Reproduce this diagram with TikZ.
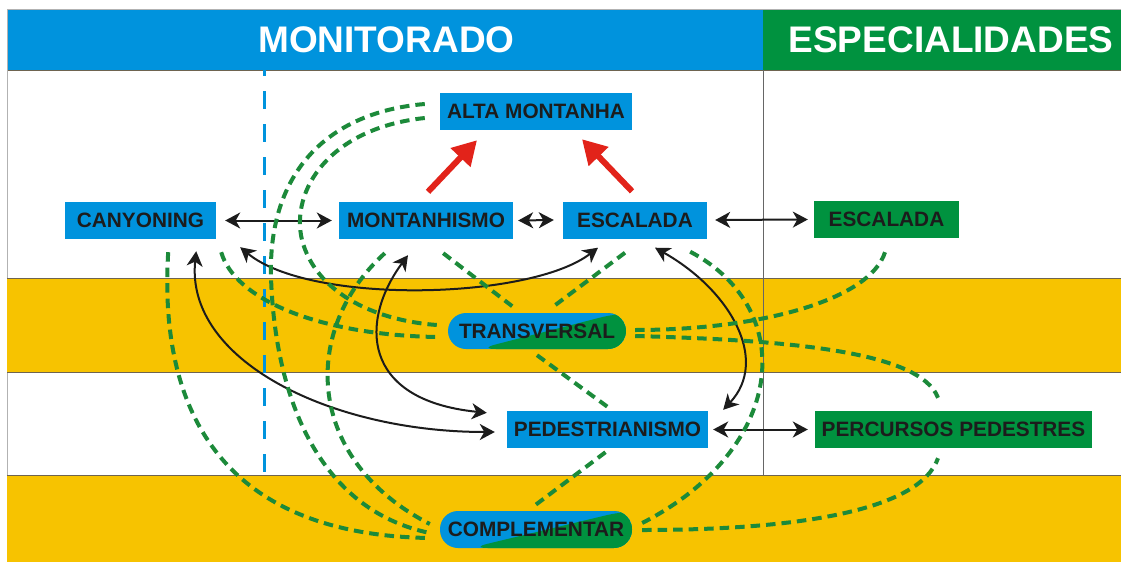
\documentclass[tikz,border=0pt]{standalone}
\usepackage{fontspec}
\setmainfont{Liberation Sans}
\usetikzlibrary{arrows.meta}
\definecolor{cblue}{RGB}{0,147,221}
\definecolor{cgreen}{RGB}{0,146,63}
\definecolor{cdash}{RGB}{28,138,58}
\definecolor{cyellow}{RGB}{247,195,0}
\definecolor{cred}{RGB}{226,35,26}
\definecolor{ctext}{RGB}{28,28,28}
\definecolor{cline}{RGB}{110,100,80}
\begin{document}
\begin{tikzpicture}[x=1pt,y=-1pt,
  box/.style={fill=cblue, inner sep=0pt, minimum height=37pt, text=ctext,
    font=\fontsize{20.8}{24}\selectfont\bfseries},
  gbox/.style={box, fill=cgreen},
  pill/.style={box, rounded corners=18pt,
    path picture={\fill[cgreen] ([xshift=30pt]path picture bounding box.south west)
      -- ([xshift=-8pt]path picture bounding box.north east)
      -- (path picture bounding box.north east)
      -- (path picture bounding box.south east) -- cycle;}},
  link/.style={draw=cdash, line width=4pt, dash pattern=on 9.5pt off 6pt},
  biarrow/.style={draw=ctext, line width=2pt,
    {Stealth[length=15pt,width=16pt,inset=4.5pt]}-{Stealth[length=15pt,width=16pt,inset=4.5pt]}},
  redarrow/.style={draw=cred, line width=6pt, -{Triangle[length=24pt,width=26pt]}},
  hdr/.style={text=white, inner sep=0pt, font=\fontsize{37}{40}\selectfont\bfseries}
]
\useasboundingbox (0,0) rectangle (1121,562);
\fill[white] (0,0) rectangle (1121,562);
% header
\fill[cblue] (7,9) rectangle (763,70);
\fill[cgreen] (763,9) rectangle (1121,70);
\draw[gray!60, line width=0.8pt] (7,9) -- (1121,9);
\draw[cline, line width=0.8pt] (7,70) -- (1121,70);
\draw[gray!60, line width=0.8pt] (7,9) -- (7,562);
% bands
\fill[cyellow] (7,278) rectangle (1121,372);
\fill[cyellow] (7,475) rectangle (1121,562);
\draw[cline, line width=0.8pt] (7,278) -- (1121,278);
\draw[cline, line width=0.8pt] (7,372) -- (1121,372);
\draw[cline, line width=0.8pt] (7,475) -- (1121,475);
\draw[gray!80!black, line width=0.8pt] (763,70) -- (763,475);
\draw[cblue, line width=3pt, dash pattern=on 18pt off 15pt, dash phase=12pt] (264,70) -- (264,475);
% header texts
\node[hdr] (hmon) at (386.5,40) {MONITORADO};
\node[hdr] (hesp) at (951,40) {ESPECIALIDADES};
% nodes
\node[box, minimum width=192pt] (alta) at (536,111.5) {ALTA MONTANHA};
\node[box, minimum width=151pt] (can) at (140.5,220.5) {CANYONING};
\node[box, minimum width=174pt] (mon) at (426,220.5) {MONTANHISMO};
\node[box, minimum width=144pt] (esc) at (635,220) {ESCALADA};
\node[gbox, minimum width=145pt] (escg) at (886.5,219.5) {ESCALADA};
\node[pill, minimum width=178pt, minimum height=36pt] (trans) at (537,331) {TRANSVERSAL};
\node[box, minimum width=201pt] (ped) at (607.5,429.5) {PEDESTRIANISMO};
\node[gbox, minimum width=277pt] (perc) at (953.5,429.5) {PERCURSOS PEDESTRES};
\node[pill, minimum width=192pt] (comp) at (536,529.5) {COMPLEMENTAR};
% black arrows
\draw[biarrow] ([xshift=9pt]can.east) -- ([xshift=-7pt]mon.west);
\draw[biarrow] ([xshift=5pt]mon.east) -- ([xshift=-9pt]esc.west);
\draw[biarrow] ([xshift=8pt]esc.east) -- ([xshift=-6pt]escg.west);
\draw[biarrow] ([xshift=5pt]ped.east) -- ([xshift=-7pt]perc.west);
\draw[biarrow] ([shift={(24,8)}]can.south east) .. controls (310,305) and (530,300) .. ([shift={(-37,9)}]esc.south);
\draw[biarrow] ([shift={(-20,12)}]can.south east) .. controls (185,360) and (330,432) .. ([shift={(-12,2.5)}]ped.west);
\draw[biarrow] ([shift={(-18,16)}]mon.south) .. controls (360,320) and (360,400) .. ([shift={(-20,2)}]ped.north west);
\draw[biarrow] ([shift={(20,9)}]esc.south) .. controls (730,290) and (770,360) .. ([shift={(15,-1)}]ped.north east);
% green dashed links
\draw[link] ([shift={(-15,-7.5)}]alta.west) .. controls (330,112) and (268,170) .. (271,277)
  .. controls (275,400) and (320,510) .. ([shift={(-10,3.5)}]comp.west);
\draw[link] ([shift={(-15,6.5)}]alta.west) .. controls (330,128) and (290,190) .. (302,240)
  .. controls (315,290) and (370,320) .. ([shift={(-11,-6)}]trans.west);
\draw[link] ([shift={(5,13)}]can.south east) .. controls (235,300) and (320,335) .. ([shift={(-11,6)}]trans.west);
\draw[link] ([shift={(-48,13)}]can.south east) .. controls (158,420) and (230,535) .. ([shift={(-10,8.5)}]comp.west);
\draw[link] ([shift={(46,14)}]mon.south west) .. controls (300,330) and (305,460) .. ([shift={(-10,-5.5)}]comp.west);
\draw[link] ([shift={(-70,14)}]mon.south east) -- ([shift={(-24,-6)}]trans.north);
\draw[link] ([shift={(-10,14)}]esc.south) -- ([shift={(16,-6)}]trans.north);
\draw[link] ([shift={(-17,13)}]esc.south east) .. controls (800,310) and (785,450) .. ([shift={(10,-6.5)}]comp.east);
\draw[link] ([shift={(9,-1)}]trans.east) .. controls (760,330) and (870,300) .. ([shift={(-1.5,14)}]escg.south);
\draw[link] ([shift={(9,5)}]trans.east) .. controls (780,340) and (920,350) .. ([shift={(-15.5,-13)}]perc.north);
\draw[link] ([shift={(0,6)}]trans.south) -- ([shift={(0,-4)}]ped.north);
\draw[link] ([shift={(-2,4)}]ped.south) -- ([shift={(-3,-4)}]comp.north);
\draw[link] ([shift={(10,0.5)}]comp.east) .. controls (800,530) and (920,510) .. ([shift={(-15.5,10)}]perc.south);
% red arrows
\draw[redarrow] ([shift={(2,-10)}]mon.north) -- ([shift={(-59,10)}]alta.south);
\draw[redarrow] ([shift={(-3,-10)}]esc.north) -- ([shift={(46,9)}]alta.south);
\end{tikzpicture}
\end{document}
